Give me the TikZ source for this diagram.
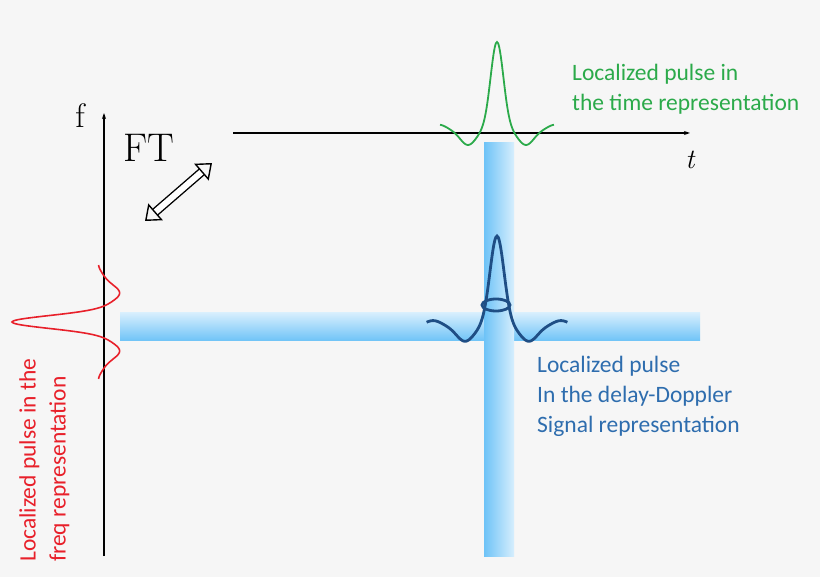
\documentclass[tikz,border=0pt]{standalone}
\usepackage{fontspec}
\newfontfamily\carlitofont{Carlito}
\usetikzlibrary{arrows.meta}
\definecolor{bg}{HTML}{F6F6F6}
\definecolor{gr}{HTML}{2BAA4A}
\definecolor{dbl}{HTML}{1F4E85}
\definecolor{lbl}{HTML}{2E6DAE}
\definecolor{rd}{HTML}{E8202A}
\definecolor{band}{HTML}{6EC3F7}
\definecolor{bandl}{HTML}{D6EEFD}
\begin{document}
\begin{tikzpicture}[x=1pt,y=-1pt,
  declare function={pf(\x)=exp(-(\x/9)^2)-0.17*exp(-((abs(\x)-29)/11)^2)+0.06*exp(-((abs(\x)-58)/10)^2);},
  axis/.style={line width=1.2pt,-{Stealth[length=6pt,width=4pt]}},
  lab/.style={font=\carlitofont\fontsize{23.5}{30}\selectfont,align=left,anchor=north west,inner sep=0}]
\fill[bg] (0,0) rectangle (820,577);
\useasboundingbox (0,0) rectangle (820,577);
% bands
\shade[top color=bandl,bottom color=band] (120,313) rectangle (700,341);
\shade[left color=band,right color=bandl] (484,143) rectangle (514,556);
% axes
\coordinate (fb) at (104,556); \coordinate (ft) at (104,113);
\coordinate (tb) at (233,133); \coordinate (te) at (690,133);
\draw[axis] (fb) -- (ft);
\draw[axis] (tb) -- (te);
\node[font=\fontsize{34}{34}\selectfont] (f) at (80,116) {f};
\node[font=\itshape\fontsize{28}{28}\selectfont] (t) at (690,160) {t};
\node[font=\fontsize{40}{40}\selectfont,anchor=west] (FT) at (120,148) {FT};
\coordinate (a1) at (145,221); \coordinate (a2) at (212,163);
\draw[double=white,double distance=6pt,line width=1.4pt,{Triangle[open,length=14pt,width=22pt,line width=1.4pt]}-{Triangle[open,length=14pt,width=22pt,line width=1.4pt]}] (a1) -- (a2);
% pulses
\draw[gr,line width=1.8pt,smooth] plot[domain=-57:57,samples=101] ({497+\x},{130-88*pf(\x)});
\draw[dbl,line width=2.8pt,smooth] plot[domain=-64:64,samples=121] ({497+1.1*\x},{326-90*pf(\x)});
\draw[dbl,line width=2.8pt] (496,305) ellipse (14 and 6);
\draw[rd,line width=1.6pt,smooth] plot[domain=-57:57,samples=101] ({104-92*pf(\x)},{322+\x});
% labels
\node[lab,text=gr] (gl) at (572,64) {Localized pulse in\\the time representation};
\node[lab,text=lbl] (bl) at (537,356) {Localized pulse\\In the delay-Doppler\\Signal representation};
\node[lab,text=rd,rotate=90,anchor=north west] (rl) at (19,562) {Localized pulse in the\\freq representation};
\end{tikzpicture}
\end{document}
